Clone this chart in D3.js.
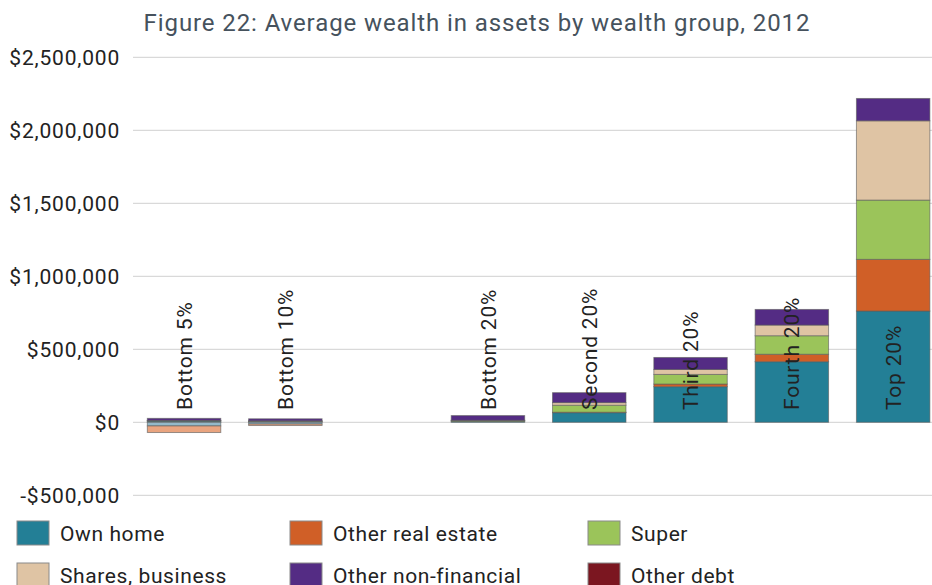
<!DOCTYPE html>
<html>
<head>
<meta charset="utf-8">
<script src="https://cdn.jsdelivr.net/npm/d3@7"></script>
<style>
  body { margin: 0; background: #fff; }
  svg { display: block; font-family: Roboto, "DejaVu Sans", sans-serif; }
</style>
</head>
<body>
<svg id="chart"></svg>
<script>
// wealth groups (the empty one is the blank slot in the original)
const groups = ['Bottom 5%', 'Bottom 10%', '', 'Bottom 20%', 'Second 20%', 'Third 20%', 'Fourth 20%', 'Top 20%'];

// average value per group, dollars
const ownHome        = [8000,   6000,  0, 6000,  66000, 244000, 415000, 762000];
const otherRealEst   = [0,      0,     0, 0,     3000,  18000,  51000,  354000];
const superAnn       = [3000,   2000,  0, 6000,  48000, 66000,  127000, 406000];
const sharesBusiness = [2000,   2000,  0, 2000,  18000, 34000,  73000,  543000];
const otherNonFin    = [14000,  14000, 0, 32000, 68000, 82000,  107000, 153000];
const otherDebt      = [0,      0,     0, 0,     0,     0,      0,      0];
const ownHomeDebt    = [-25000, -12000, 0, 0,    0,     0,      0,      0];
const otherREDebt    = [-45000, -10000, 0, 0,    0,     0,      0,      0];

const seriesNames = ['Own home', 'Other real estate', 'Super', 'Shares, business',
  'Other non-financial', 'Other debt', 'Own home debt', 'Other real estate debt'];
const seriesValues = [ownHome, otherRealEst, superAnn, sharesBusiness,
  otherNonFin, otherDebt, ownHomeDebt, otherREDebt];
const seriesColors = ['#237f96', '#d05f27', '#9bc45a', '#dfc4a4',
  '#542c84', '#7b1620', '#94b9c9', '#e9a47f'];

// only the first six legend entries fit in the picture
const legendNames = seriesNames.slice(0, 6);

const yTicks = [-500000, 0, 500000, 1000000, 1500000, 2000000, 2500000];

var width = 932, height = 585;

var svg = d3.select('#chart')
  .attr('width', width)
  .attr('height', height);

// table for d3.stack
var rows = groups.map(function(g, i) {
  var r = { group: g };
  seriesNames.forEach(function(s, j) { r[s] = seriesValues[j][i]; });
  return r;
});

var stack = d3.stack()
  .keys(seriesNames)
  .offset(d3.stackOffsetDiverging);
var stacked = stack(rows);

var x = d3.scaleBand()
  .domain(groups)
  .range([133.4, 943.8])
  .paddingInner(0.275)
  .paddingOuter(0.1375);

var y = d3.scaleLinear()
  .domain([-500000, 2500000])
  .range([495.3, 57.3]);

// title
svg.append('text')
  .attr('x', 477)
  .attr('y', 31)
  .attr('text-anchor', 'middle')
  .attr('fill', '#46525d')
  .style('font-size', '24px')
  .style('letter-spacing', '0.9px')
  .text('Figure 22: Average wealth in assets by wealth group, 2012');

// gridlines
svg.append('g')
  .selectAll('line')
  .data(yTicks)
  .enter()
  .append('line')
  .attr('x1', 133)
  .attr('x2', width)
  .attr('y1', function(d) { return y(d); })
  .attr('y2', function(d) { return y(d); })
  .attr('stroke', '#d0d0d0')
  .attr('stroke-width', 1);

// y axis labels
var fmt = d3.format(',');
var yAxis = d3.axisLeft(y)
  .tickValues(yTicks)
  .tickSize(0)
  .tickPadding(13)
  .tickFormat(function(d) { return d < 0 ? '-$' + fmt(-d) : '$' + fmt(d); });

svg.append('g')
  .attr('transform', 'translate(133,0)')
  .call(yAxis)
  .call(function(g) { g.select('.domain').remove(); })
  .selectAll('text')
  .attr('fill', '#222')
  .style('font-family', 'Roboto, sans-serif')
  .style('font-size', '21px')
  .style('letter-spacing', '0.8px');

// bars
var layer = svg.append('g')
  .selectAll('g')
  .data(stacked)
  .enter()
  .append('g')
  .attr('fill', function(d, i) { return seriesColors[i]; });

layer.selectAll('rect')
  .data(function(d) { return d; })
  .enter()
  .append('rect')
  .filter(function(d) { return d[1] !== d[0]; })
  .attr('x', function(d) { return x(d.data.group); })
  .attr('width', x.bandwidth())
  .attr('y', function(d) { return y(Math.max(d[0], d[1])); })
  .attr('height', function(d) { return Math.abs(y(d[0]) - y(d[1])); })
  .attr('stroke', '#5a5a5a')
  .attr('stroke-opacity', 0.6)
  .attr('stroke-width', 1);

// category labels, rotated, sitting just above the zero line
svg.append('g')
  .selectAll('text')
  .data(groups)
  .enter()
  .append('text')
  .attr('transform', function(d) {
    return 'translate(' + (x(d) + x.bandwidth() / 2) + ',410) rotate(-90)';
  })
  .attr('dy', '0.36em')
  .attr('fill', '#222')
  .style('font-size', '21px')
  .style('letter-spacing', '0.8px')
  .text(function(d) { return d; });

// legend, three per row
var legend = svg.append('g')
  .selectAll('g')
  .data(legendNames)
  .enter()
  .append('g')
  .attr('transform', function(d, i) {
    return 'translate(' + [17, 290, 588][i % 3] + ',' + (521 + Math.floor(i / 3) * 42) + ')';
  });

legend.append('rect')
  .attr('width', 32)
  .attr('height', 24)
  .attr('fill', function(d, i) { return seriesColors[i]; })
  .attr('stroke', '#8a8a8a')
  .attr('stroke-width', 1);

legend.append('text')
  .attr('x', 43)
  .attr('y', 12)
  .attr('dy', '0.36em')
  .attr('fill', '#222')
  .style('font-size', '21px')
  .style('letter-spacing', '0.6px')
  .text(function(d) { return d; });
</script>
</body>
</html>
